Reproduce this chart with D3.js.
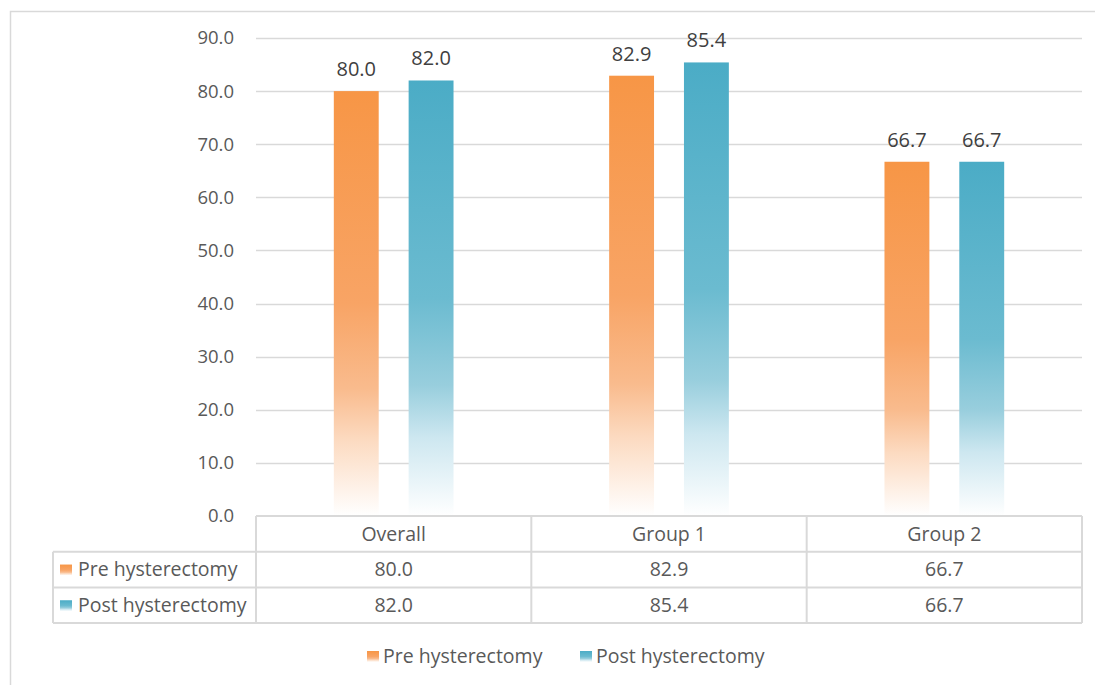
<!DOCTYPE html>
<html>
<head>
<meta charset="utf-8">
<script src="https://cdn.jsdelivr.net/npm/d3@7"></script>
<style>
  html, body { margin: 0; padding: 0; background: #fff; }
  svg { display: block; font-family: "Open Sans", "Liberation Sans", sans-serif; }
</style>
</head>
<body>
<svg id="chart" width="1095" height="685"></svg>
<script>
// Chart data
const categories = ["Overall", "Group 1", "Group 2"];
const seriesNames = ["Pre hysterectomy", "Post hysterectomy"];
const preValues = [80.0, 82.9, 66.7];
const postValues = [82.0, 85.4, 66.7];
const yTicks = [0, 10, 20, 30, 40, 50, 60, 70, 80, 90];

const seriesValues = [preValues, postValues];
const seriesStops = [
  ["#F79646", "#F8A465", "#F9BB8D", "#FCDAC0", "#FFFFFF"],
  ["#4BACC6", "#6BBBD0", "#98CEDD", "#CDE7F0", "#FFFFFF"]
];

const svg = d3.select("#chart");
const W = 1095, H = 685;

// Layout
const plot = { left: 256, right: 1082, top: 38, bottom: 516 };
const tableLeft = 53;
const rowH = 35.7;
const textColor = "#595959";
const lineColor = "#D9D9D9";
const fmt = d3.format(".1f");

// Outer frame
svg.append("rect")
  .attr("x", 10.5).attr("y", 11.5)
  .attr("width", W + 20).attr("height", H + 20)
  .attr("fill", "none").attr("stroke", lineColor).attr("stroke-width", 1.5);

// Vertical fade gradients for the bars and legend keys
const defs = svg.append("defs");
seriesStops.forEach((stops, i) => {
  const g = defs.append("linearGradient")
    .attr("id", "grad" + i)
    .attr("x1", 0).attr("y1", 0).attr("x2", 0).attr("y2", 1);
  const offs = [0, 0.5, 0.7, 0.82, 1];
  stops.forEach((c, k) => g.append("stop").attr("offset", offs[k]).attr("stop-color", c));
});

// Scales
const y = d3.scaleLinear().domain([0, 90]).range([plot.bottom, plot.top]);
const x0 = d3.scaleBand().domain(categories).range([plot.left, plot.right]).paddingInner(0).paddingOuter(0);
const x1 = d3.scaleBand().domain(seriesNames).range([0, x0.bandwidth()]).paddingInner(0.4).paddingOuter(1.04);

// Gridlines
svg.append("g")
  .selectAll("line")
  .data(yTicks.filter(t => t > 0))
  .join("line")
  .attr("x1", plot.left).attr("x2", plot.right)
  .attr("y1", d => Math.round(y(d)) + 0.5).attr("y2", d => Math.round(y(d)) + 0.5)
  .attr("stroke", lineColor).attr("stroke-width", 1.5);

// Y axis labels
const yAxis = d3.axisLeft(y).tickValues(yTicks).tickFormat(fmt).tickSize(0).tickPadding(22);
const yg = svg.append("g").attr("transform", `translate(${plot.left},0)`).call(yAxis);
yg.select(".domain").remove();
yg.selectAll("text")
  .attr("fill", textColor)
  .style("font-size", "18.5px")
  .style("font-family", "'Open Sans', sans-serif");

// Bars
const groups = svg.append("g")
  .selectAll("g")
  .data(categories)
  .join("g")
  .attr("transform", d => `translate(${x0(d)},0)`);

const cells = (d, ci) => seriesNames.map((s, si) => ({ s, si, v: seriesValues[si][ci] }));

groups.selectAll("rect")
  .data(cells)
  .join("rect")
  .attr("x", d => x1(d.s))
  .attr("width", x1.bandwidth())
  .attr("y", d => y(d.v))
  .attr("height", d => y(0) - y(d.v))
  .attr("fill", d => `url(#grad${d.si})`);

// Value labels
groups.selectAll("text.val")
  .data(cells)
  .join("text")
  .attr("class", "val")
  .attr("x", d => x1(d.s) + x1.bandwidth() / 2)
  .attr("y", d => y(d.v) - 15)
  .attr("text-anchor", "middle")
  .attr("fill", "#404040")
  .style("font-size", "20px")
  .text(d => fmt(d.v));

// Data table
const table = svg.append("g");
const rowTop = [plot.bottom, plot.bottom + rowH, plot.bottom + 2 * rowH, plot.bottom + 3 * rowH];
const colEdges = [plot.left].concat(categories.map(c => x0(c) + x0.bandwidth()));

table.append("line")
  .attr("x1", plot.left).attr("x2", plot.right)
  .attr("y1", rowTop[0]).attr("y2", rowTop[0])
  .attr("stroke", lineColor).attr("stroke-width", 2);
[1, 2, 3].forEach(r => {
  table.append("line")
    .attr("x1", tableLeft).attr("x2", plot.right)
    .attr("y1", rowTop[r]).attr("y2", rowTop[r])
    .attr("stroke", lineColor).attr("stroke-width", 2);
});
colEdges.forEach(xe => {
  table.append("line")
    .attr("x1", xe).attr("x2", xe)
    .attr("y1", rowTop[0]).attr("y2", rowTop[3])
    .attr("stroke", lineColor).attr("stroke-width", 2);
});
table.append("line")
  .attr("x1", tableLeft).attr("x2", tableLeft)
  .attr("y1", rowTop[1]).attr("y2", rowTop[3])
  .attr("stroke", lineColor).attr("stroke-width", 2);

// Header row
table.selectAll("text.cat")
  .data(categories)
  .join("text")
  .attr("class", "cat")
  .attr("x", d => x0(d) + x0.bandwidth() / 2)
  .attr("y", rowTop[0] + rowH / 2)
  .attr("dy", "0.35em")
  .attr("text-anchor", "middle")
  .attr("fill", textColor)
  .style("font-size", "19.5px")
  .text(d => d);

// Series rows
seriesNames.forEach((s, si) => {
  const ty = rowTop[si + 1] + rowH / 2;
  table.append("rect")
    .attr("x", 60).attr("y", ty - 5).attr("width", 12).attr("height", 11)
    .attr("fill", `url(#grad${si})`);
  table.append("text")
    .attr("x", 78).attr("y", ty).attr("dy", "0.35em")
    .attr("fill", textColor).style("font-size", "19.5px")
    .text(s);
  categories.forEach((c, ci) => {
    table.append("text")
      .attr("x", x0(c) + x0.bandwidth() / 2)
      .attr("y", ty).attr("dy", "0.35em")
      .attr("text-anchor", "middle")
      .attr("fill", textColor).style("font-size", "19.5px")
      .text(fmt(seriesValues[si][ci]));
  });
});

// Legend
const legendX = [367, 580];
const legend = svg.append("g");
seriesNames.forEach((s, si) => {
  legend.append("rect")
    .attr("x", legendX[si]).attr("y", 651).attr("width", 12).attr("height", 11)
    .attr("fill", `url(#grad${si})`);
  legend.append("text")
    .attr("x", legendX[si] + 16).attr("y", 656).attr("dy", "0.35em")
    .attr("fill", textColor).style("font-size", "19.5px")
    .text(s);
});
</script>
</body>
</html>
